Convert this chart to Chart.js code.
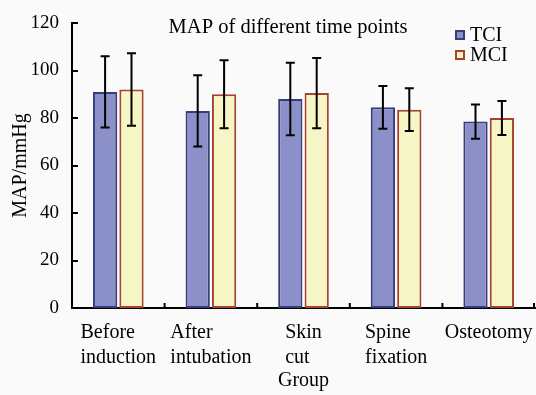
<!DOCTYPE html>
<html>
<head>
<meta charset="utf-8">
<script src="https://cdn.jsdelivr.net/npm/chart.js@4.4.1/dist/chart.umd.min.js"></script>
<style>
  html, body { margin: 0; padding: 0; background: #fafafa; }
  canvas { display: block; }
</style>
</head>
<body>
<canvas id="mapChart" width="536" height="395"></canvas>
<script>
const categories = [
  ["Before", "induction"],
  ["After", "intubation"],
  ["Skin", "cut"],
  ["Spine", "fixation"],
  ["Osteotomy"],
];
const tciValues = [91, 83, 88, 84.5, 78.5];
const tciErrors = [15, 15, 15.3, 9, 7.2];
const mciValues = [92, 90, 90.5, 83.5, 80];
const mciErrors = [15.3, 14.3, 14.8, 9, 7.2];
const yTicks = [0, 20, 40, 60, 80, 100, 120];

const chartTitle = "MAP of different time points";
const serif = "'Liberation Serif', 'Times New Roman', serif";

// error bars, drawn from the y scale
const errorBars = {
  id: "errorBars",
  afterDatasetsDraw(chart) {
    const ctx = chart.ctx;
    const y = chart.scales.y;
    ctx.save();
    ctx.strokeStyle = "#000";
    ctx.lineWidth = 2;
    chart.data.datasets.forEach((ds, di) => {
      const meta = chart.getDatasetMeta(di);
      meta.data.forEach((bar, i) => {
        const v = ds.data[i];
        const e = ds.errors[i];
        const top = y.getPixelForValue(v + e);
        const bottom = y.getPixelForValue(v - e);
        ctx.beginPath();
        ctx.moveTo(bar.x, top);
        ctx.lineTo(bar.x, bottom);
        ctx.moveTo(bar.x - 4.5, top);
        ctx.lineTo(bar.x + 4.5, top);
        ctx.moveTo(bar.x - 4.5, bottom);
        ctx.lineTo(bar.x + 4.5, bottom);
        ctx.stroke();
      });
    });
    ctx.restore();
  },
};

// inward ticks, left-aligned category labels, inner title and legend
const decorations = {
  id: "decorations",
  afterDraw(chart) {
    const ctx = chart.ctx;
    const area = chart.chartArea;
    const x = chart.scales.x;
    const y = chart.scales.y;
    ctx.save();

    ctx.strokeStyle = "#000";
    ctx.lineWidth = 2;
    ctx.beginPath();
    yTicks.forEach((t) => {
      const py = Math.round(y.getPixelForValue(t));
      ctx.moveTo(area.left, py);
      ctx.lineTo(area.left + 6, py);
    });
    const n = categories.length;
    for (let i = 1; i <= n; i++) {
      const px = i < n
        ? (x.getPixelForValue(i - 1) + x.getPixelForValue(i)) / 2
        : area.right - 1;
      ctx.moveTo(px, area.bottom);
      ctx.lineTo(px, area.bottom - 5);
    }
    ctx.stroke();

    ctx.fillStyle = "#000";
    ctx.font = "20px " + serif;
    ctx.textAlign = "left";
    ctx.textBaseline = "alphabetic";
    categories.forEach((lines, i) => {
      const cx = x.getPixelForValue(i);
      const w = Math.max(...lines.map((l) => ctx.measureText(l).width));
      lines.forEach((line, k) => {
        ctx.fillText(line, cx - w / 2, area.bottom + 30 + k * 25);
      });
    });

    ctx.font = "20.5px " + serif;
    ctx.textAlign = "center";
    ctx.textBaseline = "middle";
    ctx.fillText(chartTitle, 288, area.top + 5);

    ctx.textAlign = "left";
    ctx.font = "20px " + serif;
    chart.data.datasets.forEach((ds, di) => {
      const cy = area.top + 12 + di * 20;
      ctx.fillStyle = ds.backgroundColor;
      ctx.fillRect(456, cy - 4, 8, 8);
      ctx.strokeStyle = ds.borderColor;
      ctx.lineWidth = 2;
      ctx.strokeRect(456, cy - 4, 8, 8);
      ctx.fillStyle = "#000";
      ctx.fillText(ds.label, 470, cy + 1);
    });

    ctx.restore();
  },
};

new Chart(document.getElementById("mapChart"), {
  type: "bar",
  data: {
    labels: categories,
    datasets: [
      {
        label: "TCI",
        data: tciValues,
        errors: tciErrors,
        backgroundColor: "#8b90c8",
        borderColor: "#383c7a",
        borderWidth: 2,
        borderSkipped: false,
      },
      {
        label: "MCI",
        data: mciValues,
        errors: mciErrors,
        backgroundColor: "#f6f5c6",
        borderColor: "#a5432f",
        borderWidth: 2,
        borderSkipped: false,
      },
    ],
  },
  options: {
    responsive: false,
    animation: false,
    categoryPercentage: 0.57,
    barPercentage: 0.92,
    layout: { padding: { top: 23, right: 1, left: 0, bottom: 0 } },
    plugins: {
      legend: { display: false },
      title: { display: false },
      tooltip: { enabled: false },
    },
    scales: {
      x: {
        grid: { display: false },
        border: { color: "#000", width: 2 },
        ticks: { display: false },
        title: {
          display: true,
          text: "Group",
          color: "#000",
          font: { family: serif, size: 20 },
          padding: { top: 0, bottom: 2 },
        },
        afterFit(scale) {
          scale.height = 87;
        },
      },
      y: {
        min: 0,
        max: 120,
        grid: { display: false },
        border: { color: "#000", width: 2 },
        afterBuildTicks(scale) {
          scale.ticks = yTicks.map((v) => ({ value: v }));
        },
        ticks: {
          color: "#000",
          padding: 5,
          font: { family: serif, size: 19 },
        },
        title: {
          display: true,
          text: "MAP/mmHg",
          color: "#000",
          font: { family: serif, size: 20 },
          padding: { top: 9, bottom: 0 },
        },
        afterFit(scale) {
          scale.width = 72;
        },
      },
    },
  },
  plugins: [errorBars, decorations],
});
</script>
</body>
</html>
